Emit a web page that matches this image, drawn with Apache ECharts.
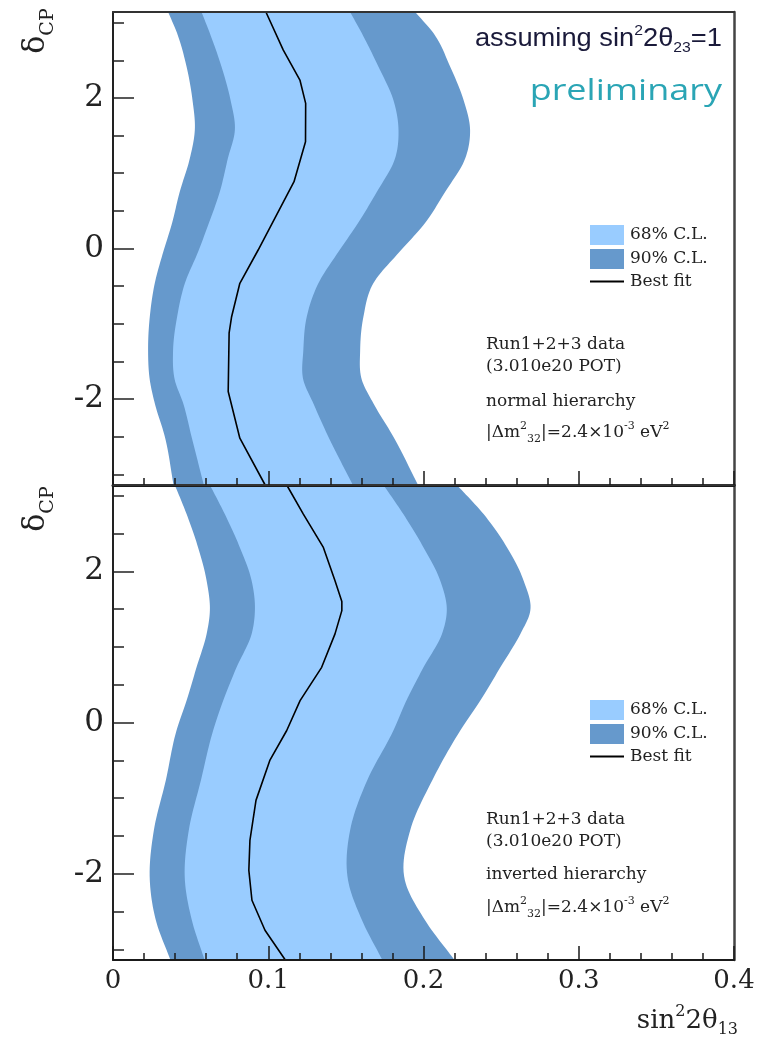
<!DOCTYPE html>
<html><head><meta charset="utf-8">
<script src="https://cdn.jsdelivr.net/npm/echarts@6/dist/echarts.min.js"></script>
<style>html,body{margin:0;padding:0;background:#fff}#c{width:769px;height:1037px}</style>
</head><body><div id="c"></div>
<script>
const PI = Math.PI;
// ---- axis ticks ----
const xTickValues = [0, 0.1, 0.2, 0.3, 0.4];
const yLabelValues = [-2, 0, 2];
const yMinorValues = [-3, -2.5, -1.5, -1, -0.5, 0.5, 1, 1.5, 2.5, 3];

// ---- top panel: normal hierarchy ----
const nhDelta   = [-PI, -2.5, -2.056, -1.746, -1.348, -0.906, -0.462, -0.05, 0.312, 0.754, 1.198, 1.574, 1.972, 2.414, 2.858, PI];
const nh90Left  = [0.0390, 0.0334, 0.0269, 0.0237, 0.0226, 0.0237, 0.0269, 0.0323, 0.0377, 0.0430, 0.0495, 0.0527, 0.0512, 0.0474, 0.0413, 0.0355];
const nh68Left  = [0.0585, 0.0506, 0.0452, 0.0398, 0.0387, 0.0413, 0.0463, 0.0547, 0.0613, 0.0688, 0.0740, 0.0785, 0.0757, 0.0699, 0.0624, 0.0570];
const nh68Right = [0.1545, 0.1387, 0.1290, 0.1226, 0.1226, 0.1248, 0.1323, 0.1450, 0.1570, 0.1700, 0.1817, 0.1839, 0.1806, 0.1710, 0.1603, 0.1527];
const nh90Right = [0.1965, 0.1806, 0.1677, 0.1603, 0.1592, 0.1613, 0.1677, 0.1843, 0.2000, 0.2140, 0.2269, 0.2300, 0.2258, 0.2172, 0.2065, 0.1946];
const nhBestDelta = [-PI, -2.52, -1.90, -1.12, -0.906, -0.462, -0.02, 0.887, 1.418, 1.928, 2.238, 2.636, PI];
const nhBestX     = [0.0980, 0.0817, 0.0742, 0.0748, 0.0764, 0.0817, 0.0935, 0.1166, 0.1240, 0.1241, 0.1204, 0.1097, 0.0985];

// ---- bottom panel: inverted hierarchy ----
const ihDelta   = [-PI, -2.616, -2.087, -1.427, -0.766, -0.106, 0.29, 0.73, 1.172, 1.48, 1.876, 2.316, 2.757, PI];
const ih90Left  = [0.0370, 0.0276, 0.0237, 0.0263, 0.0340, 0.0409, 0.0474, 0.0538, 0.0603, 0.0624, 0.0603, 0.0548, 0.0474, 0.0398];
const ih68Left  = [0.0590, 0.0508, 0.0463, 0.0488, 0.0566, 0.0645, 0.0710, 0.0796, 0.0893, 0.0914, 0.0893, 0.0817, 0.0720, 0.0624];
const ih68Right = [0.1735, 0.1604, 0.1514, 0.1527, 0.1637, 0.1806, 0.1890, 0.2000, 0.2119, 0.2150, 0.2108, 0.2000, 0.1870, 0.1742];
const ih90Right = [0.2200, 0.2010, 0.1880, 0.1914, 0.2056, 0.2237, 0.2366, 0.2495, 0.2624, 0.2688, 0.2645, 0.2538, 0.2387, 0.2215];
const ihBestDelta = [-PI, -2.748, -2.351, -1.955, -1.559, -1.03, -0.502, -0.106, 0.29, 0.73, 1.172, 1.48, 1.6, 1.876, 2.316, 2.757, PI];
const ihBestX     = [0.1110, 0.0979, 0.0895, 0.0875, 0.0882, 0.0921, 0.1010, 0.1119, 0.1205, 0.1344, 0.1430, 0.1474, 0.1474, 0.1430, 0.1355, 0.1226, 0.1119];

const LIGHT = '#99ccff', DARK = '#6699cc';
const SERIF = 'DejaVu Serif';

// smooth curve x(δ) through the read points (cubic Hermite), for drawing only
function curve(deltas, xs, sub) {
  const n = deltas.length, m = [];
  for (let i = 0; i < n; i++) {
    if (i === 0) m.push((xs[1] - xs[0]) / (deltas[1] - deltas[0]));
    else if (i === n - 1) m.push((xs[n - 1] - xs[n - 2]) / (deltas[n - 1] - deltas[n - 2]));
    else {
      const h0 = deltas[i] - deltas[i - 1], h1 = deltas[i + 1] - deltas[i];
      const a = (xs[i] - xs[i - 1]) / h0, b = (xs[i + 1] - xs[i]) / h1;
      m.push((a * h1 + b * h0) / (h0 + h1));
    }
  }
  const out = [];
  for (let i = 0; i < n - 1; i++) {
    const h = deltas[i + 1] - deltas[i];
    for (let k = 0; k < sub; k++) {
      const t = k / sub, t2 = t * t, t3 = t2 * t;
      const x = (2 * t3 - 3 * t2 + 1) * xs[i] + (t3 - 2 * t2 + t) * h * m[i] +
                (-2 * t3 + 3 * t2) * xs[i + 1] + (t3 - t2) * h * m[i + 1];
      out.push([x, deltas[i] + t * h]);
    }
  }
  out.push([xs[n - 1], deltas[n - 1]]);
  return out;
}

function band(name, g, deltas, left, right, color) {
  return {
    type: 'custom', name: name, xAxisIndex: g * 2, yAxisIndex: g * 3, clip: true,
    itemStyle: { color: color }, data: [0], animation: false, silent: true,
    renderItem: function (params, api) {
      const L = curve(deltas, left, 12), R = curve(deltas, right, 12).reverse();
      const pts = L.concat(R).map(p => api.coord(p));
      return { type: 'polygon', shape: { points: pts }, style: { fill: color } };
    }
  };
}
function bestLine(g, deltas, xs) {
  return {
    type: 'line', name: 'Best fit', xAxisIndex: g * 2, yAxisIndex: g * 3,
    data: deltas.map((d, i) => [xs[i], d]), symbol: 'none', showSymbol: false, clip: true,
    lineStyle: { color: '#000', width: 1.6 }, itemStyle: { color: '#000' }, animation: false, z: 4
  };
}
function xAxes(g, showLabels, lineW) {
  return [{
    type: 'value', gridIndex: g, min: 0, max: 0.4, interval: 0.1, position: 'bottom', z: 10,
    axisLine: { show: true, onZero: false, lineStyle: { color: '#1a1a1a', width: lineW } },
    axisTick: { show: true, inside: true, length: 14, lineStyle: { color: '#1a1a1a', width: 1.5 } },
    minorTick: { show: true, splitNumber: 5, length: 7, lineStyle: { color: '#1a1a1a', width: 1.5 } },
    splitLine: { show: false }, minorSplitLine: { show: false },
    axisLabel: { show: showLabels, margin: 8, fontFamily: SERIF, fontSize: 26, color: '#222',
      formatter: v => (xTickValues.indexOf(v) >= 0 ? String(v) : '') }
  }, {
    type: 'value', gridIndex: g, min: 0, max: 0.4, position: 'top', z: 10,
    axisLine: { show: true, onZero: false, lineStyle: { color: '#333', width: 2 } },
    axisTick: { show: false }, axisLabel: { show: false }, splitLine: { show: false }
  }];
}
function yAxes(g) {
  return [{
    type: 'value', gridIndex: g, min: -PI, max: PI, position: 'left', z: 10,
    axisLine: { show: true, onZero: false, lineStyle: { color: '#222', width: 2 } },
    axisTick: { show: true, inside: true, length: 21, customValues: yLabelValues, lineStyle: { color: '#222', width: 1.5 } },
    axisLabel: { show: true, customValues: yLabelValues, margin: 9, fontFamily: SERIF, fontSize: 31, color: '#222' },
    splitLine: { show: false }
  }, {
    type: 'value', gridIndex: g, min: -PI, max: PI, position: 'left', z: 10,
    axisLine: { show: false, onZero: false },
    axisTick: { show: true, inside: true, length: 11, customValues: yMinorValues, lineStyle: { color: '#222', width: 1.5 } },
    axisLabel: { show: false }, splitLine: { show: false }
  }, {
    type: 'value', gridIndex: g, min: -PI, max: PI, position: 'right', z: 10,
    axisLine: { show: true, onZero: false, lineStyle: { color: '#444', width: 2.5 } },
    axisTick: { show: false }, axisLabel: { show: false }, splitLine: { show: false }
  }];
}
const legendData = [
  { name: '68% C.L.', icon: 'rect' },
  { name: '90% C.L.', icon: 'rect' },
  { name: 'Best fit', icon: 'path://M0,0 L34,0 L34,1.8 L0,1.8 Z' }
];
function legend(top) {
  return { left: 590, top: top, orient: 'vertical', padding: 0, itemWidth: 34, itemHeight: 20, itemGap: 4,
    selectedMode: false, data: legendData,
    textStyle: { fontFamily: SERIF, fontSize: 17, color: '#222', padding: [0, 0, 0, 1] } };
}
const richSmall = {
  sup: { fontFamily: SERIF, fontSize: 11, verticalAlign: 'top', lineHeight: 12, fill: '#222' },
  sub: { fontFamily: SERIF, fontSize: 11, verticalAlign: 'bottom', lineHeight: 12, fill: '#222' }
};
function note(x, y, text) {
  return { type: 'text', x: x, y: y, z: 20,
    style: { text: text, fontFamily: SERIF, fontSize: 17, fill: '#222', lineHeight: 24,
      align: 'left', verticalAlign: 'middle', rich: richSmall } };
}
const deltaLabel = y => ({ type: 'text', x: 36, y: y, rotation: PI / 2, z: 20,
  style: { text: 'δ{s|CP}', fontFamily: SERIF, fontSize: 30, fill: '#222', lineHeight: 44,
    align: 'center', verticalAlign: 'middle',
    rich: { s: { fontFamily: SERIF, fontSize: 19, verticalAlign: 'bottom', lineHeight: 20, fill: '#222' } } } });

const option = {
  backgroundColor: '#fff', animation: false,
  grid: [
    { left: 113, right: 35, top: 12, height: 473, show: false },
    { left: 113, right: 35, top: 485, height: 475, show: false }
  ],
  xAxis: [...xAxes(0, false, 3), ...xAxes(1, true, 2)],
  yAxis: [...yAxes(0), ...yAxes(1)],
  legend: [legend(225), legend(700)],
  series: [
    band('90% C.L.', 0, nhDelta, nh90Left, nh90Right, DARK),
    band('68% C.L.', 0, nhDelta, nh68Left, nh68Right, LIGHT),
    bestLine(0, nhBestDelta, nhBestX),
    band('90% C.L.', 1, ihDelta, ih90Left, ih90Right, DARK),
    band('68% C.L.', 1, ihDelta, ih68Left, ih68Right, LIGHT),
    bestLine(1, ihBestDelta, ihBestX)
  ],
  graphic: [
    { type: 'text', x: 722, y: 39, z: 20, scaleX: 1.05,
      style: { text: 'assuming sin{sp|2}2θ{sb|23}=1', fontFamily: 'Liberation Sans', fontSize: 26, fill: '#1a1a3a',
        lineHeight: 32, align: 'right', verticalAlign: 'middle',
        rich: { sp: { fontFamily: 'Liberation Sans', fontSize: 15, verticalAlign: 'top', lineHeight: 16, fill: '#1a1a3a' },
                sb: { fontFamily: 'Liberation Sans', fontSize: 15, verticalAlign: 'bottom', lineHeight: 16, fill: '#1a1a3a' } } } },
    { type: 'text', x: 722, y: 91, z: 20, scaleX: 1.2,
      style: { text: 'preliminary', fontFamily: 'Open Sans', fontSize: 30, fill: '#2aa5b5', align: 'right', verticalAlign: 'middle' } },
    note(486, 345, 'Run1+2+3 data'),
    note(486, 367, '(3.010e20 POT)'),
    note(486, 402, 'normal hierarchy'),
    note(486, 433, '|Δm{sup|2}{sub|32}|=2.4×10{sup|-3} eV{sup|2}'),
    note(486, 820, 'Run1+2+3 data'),
    note(486, 842, '(3.010e20 POT)'),
    note(486, 875, 'inverted hierarchy'),
    note(486, 908, '|Δm{sup|2}{sub|32}|=2.4×10{sup|-3} eV{sup|2}'),
    { type: 'text', x: 738, y: 1021, z: 20,
      style: { text: 'sin{sp|2}2θ{sb|13}', fontFamily: SERIF, fontSize: 26, fill: '#222', lineHeight: 34,
        align: 'right', verticalAlign: 'middle',
        rich: { sp: { fontFamily: SERIF, fontSize: 16, verticalAlign: 'top', lineHeight: 16, fill: '#222' },
                sb: { fontFamily: SERIF, fontSize: 16, verticalAlign: 'bottom', lineHeight: 16, fill: '#222' } } } },
    deltaLabel(31),
    deltaLabel(509)
  ]
};
const chart = echarts.init(document.getElementById('c'), null, { renderer: 'canvas' });
chart.setOption(option);
</script>
</body></html>
